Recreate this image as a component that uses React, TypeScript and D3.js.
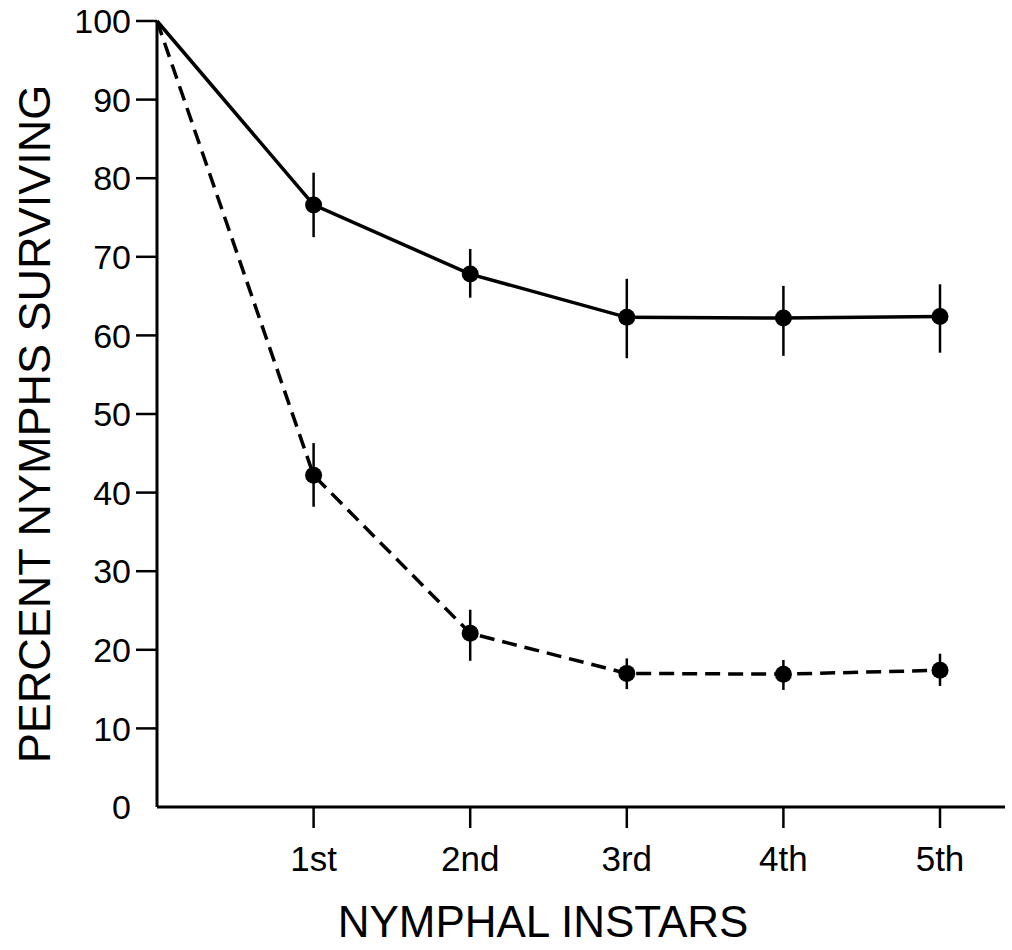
import React, { useEffect, useRef } from 'react';
import * as d3 from 'd3';

// stage 0 is the start (all nymphs alive), then instars 1..5
const instars = ['1st', '2nd', '3rd', '4th', '5th'];
const yTicks = [0, 10, 20, 30, 40, 50, 60, 70, 80, 90, 100];

const solidMean = [100, 76.6, 67.8, 62.3, 62.2, 62.4];
const solidUpper = [null, 80.7, 71.0, 67.2, 66.3, 66.5];
const solidLower = [null, 72.5, 64.8, 57.1, 57.4, 57.8];

const dashedMean = [100, 42.2, 22.1, 17.0, 16.9, 17.4];
const dashedUpper = [null, 46.3, 25.1, 18.9, 18.7, 19.5];
const dashedLower = [null, 38.2, 18.6, 15.0, 14.9, 15.4];

const W = 1012;
const H = 950;
const FONT = '"Liberation Sans", Arial, Helvetica, sans-serif';

const App = () => {
  const ref = useRef<SVGSVGElement>(null);

  useEffect(() => {
    const svg = d3.select(ref.current);
    svg.selectAll('*').remove();

    const x = d3.scaleLinear().domain([0, 5]).range([157, 940]);
    const y = d3.scaleLinear().domain([0, 100]).range([807, 21]);

    // axes
    const xAxis = svg.append('g').attr('transform', `translate(0,${y(0)})`);
    xAxis.append('line')
      .attr('x1', x(0)).attr('x2', 1005)
      .attr('stroke', '#000').attr('stroke-width', 3);
    xAxis.selectAll('.tick')
      .data(instars)
      .join('g')
      .attr('class', 'tick')
      .attr('transform', (d, i) => `translate(${x(i + 1)},0)`)
      .call((g) => {
        g.append('line').attr('y1', 0).attr('y2', 21)
          .attr('stroke', '#000').attr('stroke-width', 2.5);
        g.append('text')
          .attr('y', 64)
          .attr('text-anchor', 'middle')
          .attr('font-family', FONT)
          .attr('font-size', 35)
          .text((d) => d);
      });

    const yAxis = svg.append('g').attr('transform', `translate(${x(0)},0)`);
    yAxis.append('line')
      .attr('y1', y(100)).attr('y2', y(0))
      .attr('stroke', '#000').attr('stroke-width', 3);
    yAxis.selectAll('.tick')
      .data(yTicks)
      .join('g')
      .attr('class', 'tick')
      .attr('transform', (d) => `translate(0,${y(d)})`)
      .call((g) => {
        g.filter((d) => d > 0).append('line').attr('x1', -21).attr('x2', 0)
          .attr('stroke', '#000').attr('stroke-width', 2.5);
        g.append('text')
          .attr('x', -26)
          .attr('dy', '0.36em')
          .attr('text-anchor', 'end')
          .attr('font-family', FONT)
          .attr('font-size', 34)
          .text((d) => d);
      });

    // axis titles
    svg.append('text')
      .attr('transform', `translate(50,${(y(0) + y(100)) / 2 + 10}) rotate(-90)`)
      .attr('text-anchor', 'middle')
      .attr('font-family', FONT)
      .attr('font-size', 45)
      .text('PERCENT NYMPHS SURVIVING');

    svg.append('text')
      .attr('x', 543)
      .attr('y', 937)
      .attr('text-anchor', 'middle')
      .attr('font-family', FONT)
      .attr('font-size', 44)
      .text('NYMPHAL INSTARS');

    const line = d3.line<number>().x((d, i) => x(i)).y((d) => y(d));

    const drawSeries = (mean, upper, lower, dash) => {
      const g = svg.append('g');
      g.append('path')
        .attr('d', line(mean))
        .attr('fill', 'none')
        .attr('stroke', '#000')
        .attr('stroke-width', 3.5)
        .attr('stroke-dasharray', dash);
      const pts = mean.map((m, i) => ({ i, m, hi: upper[i], lo: lower[i] })).filter((p) => p.hi != null);
      g.selectAll('.err')
        .data(pts)
        .join('line')
        .attr('class', 'err')
        .attr('x1', (d) => x(d.i)).attr('x2', (d) => x(d.i))
        .attr('y1', (d) => y(d.hi)).attr('y2', (d) => y(d.lo))
        .attr('stroke', '#000').attr('stroke-width', 2.5);
      g.selectAll('.dot')
        .data(pts)
        .join('circle')
        .attr('class', 'dot')
        .attr('cx', (d) => x(d.i))
        .attr('cy', (d) => y(d.m))
        .attr('r', 8.5)
        .attr('fill', '#000');
    };

    drawSeries(solidMean, solidUpper, solidLower, null);
    drawSeries(dashedMean, dashedUpper, dashedLower, '15,8');
  }, []);

  return (
    <svg
      ref={ref}
      width={W}
      height={H}
      viewBox={`0 0 ${W} ${H}`}
      style={{ position: 'absolute', left: 0, top: 0, background: '#fff' }}
    />
  );
};

export default App;
